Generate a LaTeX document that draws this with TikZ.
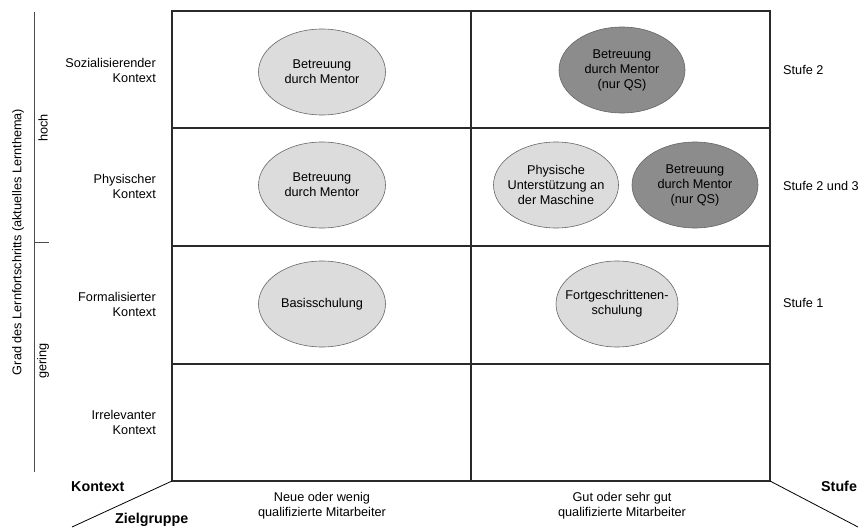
\documentclass[tikz,border=0pt]{standalone}
\usepackage{fontspec}
\setmainfont{Liberation Sans}
\usetikzlibrary{shapes.geometric,backgrounds}
\definecolor{lightfill}{HTML}{DCDCDC}
\definecolor{darkfill}{HTML}{8C8C8C}
\definecolor{gridline}{HTML}{2A2A2A}
\begin{document}
\begin{tikzpicture}[x=1pt,y=-1pt,
  every node/.style={font=\fontsize{12.7}{15}\selectfont, inner sep=0pt},
  oval/.style={ellipse, draw=black!60, line width=0.6pt, inner xsep=-22pt, inner ysep=-6pt, minimum width=127, minimum height=86, align=center},
  light/.style={oval, fill=lightfill},
  dark/.style={oval, fill=darkfill},
  rowlab/.style={align=right, anchor=east},
  stufelab/.style={anchor=west},
  boldlab/.style={font=\fontsize{14.3}{16}\selectfont\bfseries},
  gridl/.style={draw=gridline, line width=1.1pt},
  axisl/.style={draw=black!70, line width=0.9pt}]
\useasboundingbox (0,0) rectangle (860,530);
% grid coordinates
\coordinate (tl) at (172,11);
\coordinate (br) at (770,481);
\coordinate (bl) at (172,481);
\coordinate (tr) at (770,11);
\coordinate (mt) at (471,11);
\coordinate (mb) at (471,481);
\coordinate (r1l) at (172,128); \coordinate (r1r) at (770,128);
\coordinate (r2l) at (172,246); \coordinate (r2r) at (770,246);
\coordinate (r3l) at (172,364); \coordinate (r3r) at (770,364);
\draw[gridl] (tl) rectangle (br);
\draw[gridl] (mt) -- (mb);
\draw[gridl] (r1l) -- (r1r);
\draw[gridl] (r2l) -- (r2r);
\draw[gridl] (r3l) -- (r3r);
% ellipses
\node[light] (e1) at (322,72) {Betreuung\\durch Mentor};
\node[dark, minimum width=126] (e2) at (622,70) {Betreuung\\durch Mentor\\(nur QS)};
\node[light] (e3) at (322,185) {Betreuung\\durch Mentor};
\node[light, minimum width=125] (e4) at (556,185) {Physische\\Unterstützung an\\der Maschine};
\node[dark, minimum width=126] (e5) at (695,185) {Betreuung\\durch Mentor\\(nur QS)};
\node[light] (e6) at (322,304) {Basisschulung};
\node[light, minimum width=122] (e7) at (617,304) {Fortgeschrittenen-\\schulung};
% diagonals
\coordinate (dl) at (72,527);
\coordinate (dr) at (858,527);
\draw[line width=0.8pt] (bl) -- (dl);
\draw[line width=0.8pt] (br) -- (dr);
% left axis
\coordinate (at) at (34,12);
\coordinate (ab) at (34,472);
\coordinate (am) at (34,242);
\coordinate (amr) at (49,242);
\draw[axisl] (at) -- (ab);
\draw[axisl] (am) -- (amr);
\node[rotate=90] (axlab) at (18,242) {Grad des Lernfortschritts (aktuelles Lernthema)};
\node[rotate=90] (hoch) at (43,128) {hoch};
\node[rotate=90] (gering) at (43,361) {gering};
% row labels
\node[rowlab] (soz) at (156,70) {Sozialisierender\\Kontext};
\node[rowlab] (phy) at (156,186) {Physischer\\Kontext};
\node[rowlab] (form) at (156,304) {Formalisierter\\Kontext};
\node[rowlab] (irr) at (156,422) {Irrelevanter\\Kontext};
% stufe labels
\node[stufelab] (s1) at (783,70) {Stufe 2};
\node[stufelab] (s2) at (783,186) {Stufe 2 und 3};
\node[stufelab] (s3) at (783,303) {Stufe 1};
% bottom labels
\node[boldlab, anchor=west] (kontext) at (71,487) {Kontext};
\node[boldlab, anchor=west] (ziel) at (115,520) {Zielgruppe};
\node[boldlab, anchor=west] (stufe) at (821,486) {Stufe};
\node[align=center] (c1) at (322,506) {Neue oder wenig\\qualifizierte Mitarbeiter};
\node[align=center] (c2) at (622,506) {Gut oder sehr gut\\qualifizierte Mitarbeiter};
\end{tikzpicture}
\end{document}
